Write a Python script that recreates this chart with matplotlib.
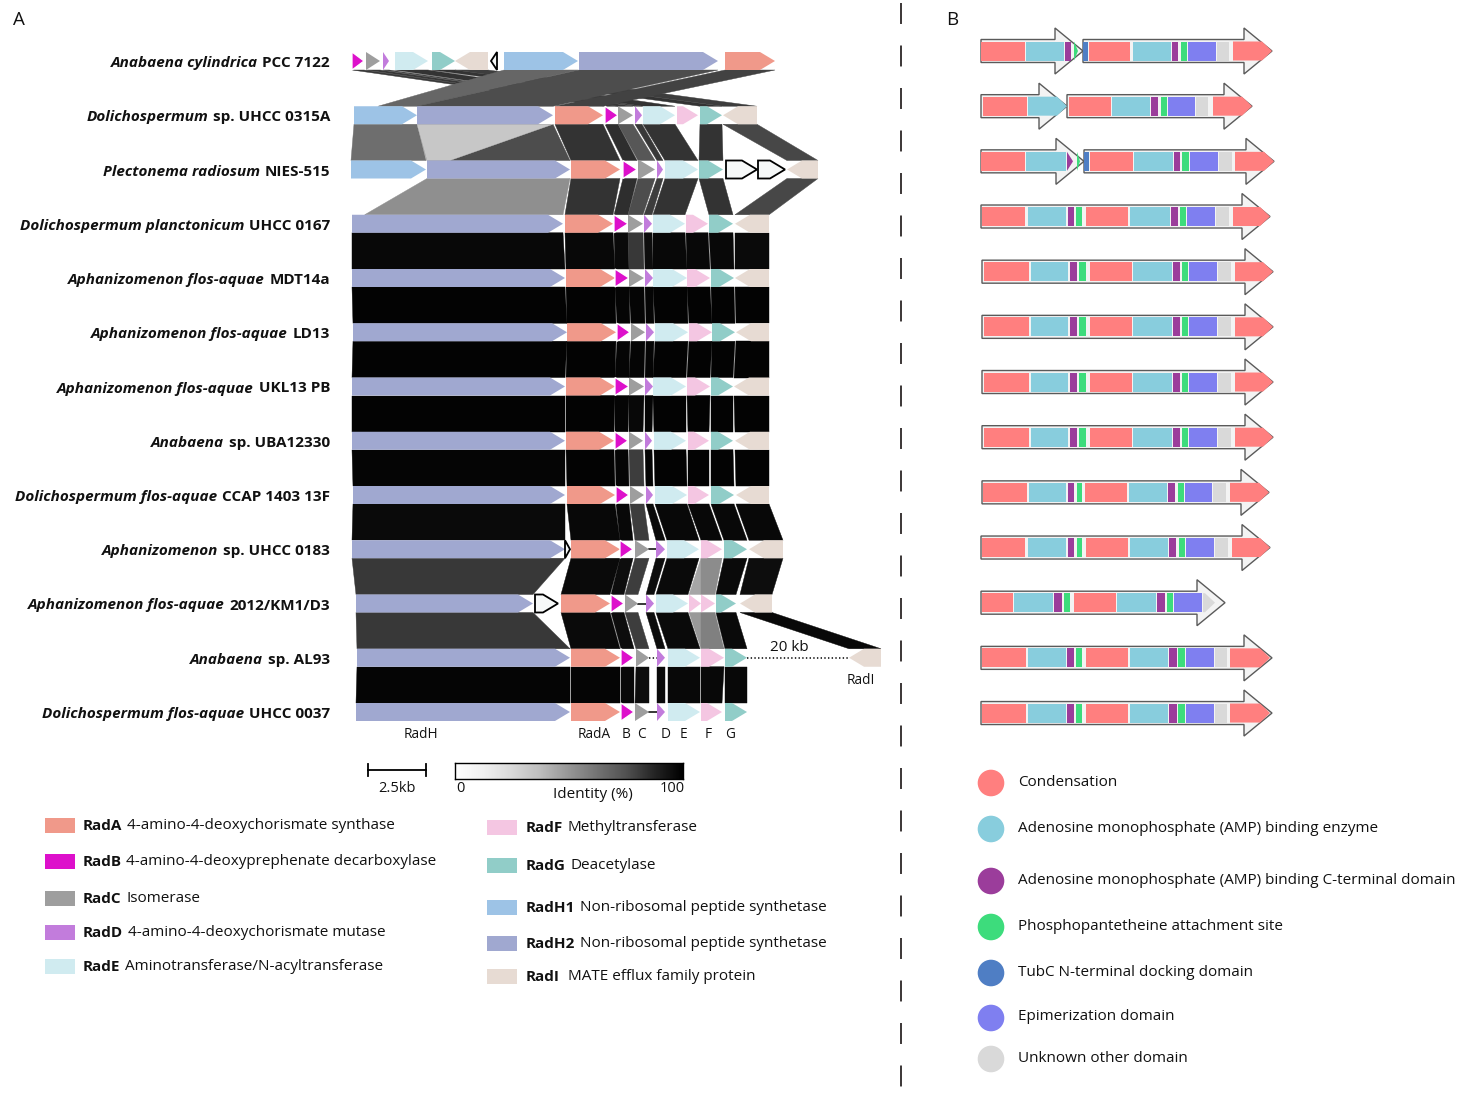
import numpy as np
import matplotlib
matplotlib.use("Agg")
import matplotlib.pyplot as plt
from matplotlib.patches import Polygon, Circle

plt.rcParams['font.family'] = ['Open Sans', 'DejaVu Sans']
plt.rcParams['lines.scale_dashes'] = False

W, H, DPI = 1459, 1103, 100

# ---------------------------------------------------------------
# Panel A : rad biosynthetic gene clusters (track units, 23.2 per kb)
# ---------------------------------------------------------------
UNITS_PER_KB = 23.2

species = ["Anabaena cylindrica", "Dolichospermum", "Plectonema radiosum",
           "Dolichospermum planctonicum", "Aphanizomenon flos-aquae",
           "Aphanizomenon flos-aquae", "Aphanizomenon flos-aquae", "Anabaena",
           "Dolichospermum flos-aquae", "Aphanizomenon",
           "Aphanizomenon flos-aquae", "Anabaena", "Dolichospermum flos-aquae"]
strains = ["PCC 7122", "sp. UHCC 0315A", "NIES-515", "UHCC 0167", "MDT14a",
           "LD13", "UKL13 PB", "sp. UBA12330", "CCAP 1403 13F", "sp. UHCC 0183",
           "2012/KM1/D3", "sp. AL93", "UHCC 0037"]

# (gene, start, end, strand)
clusters = [
    [("RadB", 2, 14, 1), ("RadC", 16, 30, 1), ("RadD", 33, 39, 1), ("RadE", 45, 78, 1),
     ("RadG", 82, 105, 1), ("RadI", 105, 138, -1), ("orf", 141, 147, -1),
     ("RadH1", 154, 228, 1), ("RadH2", 229, 368, 1), ("RadA", 375, 425, 1)],
    [("RadH1", 4, 67, 1), ("RadH2", 67, 203, 1), ("RadA", 205, 253, 1), ("RadB", 255, 268, 1),
     ("RadC", 268, 283, 1), ("RadD", 285, 292, 1), ("RadE", 293, 325, 1), ("RadF", 327, 348, 1),
     ("RadG", 350, 372, 1), ("RadI", 373, 407, -1)],
    [("RadH1", 1, 76, 1), ("RadH2", 77, 220, 1), ("RadA", 221, 270, 1), ("RadB", 273, 287, 1),
     ("RadC", 288, 305, 1), ("RadD", 307, 313, 1), ("RadE", 315, 348, 1), ("RadG", 349, 373, 1),
     ("orf", 376, 407, 1), ("orf", 408, 435, 1), ("RadI", 437, 468, -1)],
    [("RadH2", 2, 213, 1), ("RadA", 215, 263, 1), ("RadB", 264, 278, 1), ("RadC", 278, 293, 1),
     ("RadD", 294, 302, 1), ("RadE", 303, 335, 1), ("RadF", 336, 358, 1), ("RadG", 359, 383, 1),
     ("RadI", 385, 419, -1)],
    [("RadH2", 2, 215, 1), ("RadA", 216, 265, 1), ("RadB", 265, 279, 1), ("RadC", 279, 294, 1),
     ("RadD", 295, 303, 1), ("RadE", 303, 337, 1), ("RadF", 337, 360, 1), ("RadG", 361, 384, 1),
     ("RadI", 385, 419, -1)],
    [("RadH2", 3, 217, 1), ("RadA", 217, 266, 1), ("RadB", 267, 280, 1), ("RadC", 281, 295, 1),
     ("RadD", 296, 304, 1), ("RadE", 305, 338, 1), ("RadF", 339, 362, 1), ("RadG", 362, 385, 1),
     ("RadI", 386, 419, -1)],
    [("RadH2", 2, 215, 1), ("RadA", 216, 265, 1), ("RadB", 265, 279, 1), ("RadC", 279, 294, 1),
     ("RadD", 295, 303, 1), ("RadE", 303, 336, 1), ("RadF", 337, 360, 1), ("RadG", 361, 383, 1),
     ("RadI", 384, 419, -1)],
    [("RadH2", 2, 215, 1), ("RadA", 216, 264, 1), ("RadB", 265, 278, 1), ("RadC", 279, 293, 1),
     ("RadD", 295, 302, 1), ("RadE", 304, 336, 1), ("RadF", 338, 359, 1), ("RadG", 361, 383, 1),
     ("RadI", 385, 419, -1)],
    [("RadH2", 3, 215, 1), ("RadA", 217, 265, 1), ("RadB", 266, 279, 1), ("RadC", 280, 294, 1),
     ("RadD", 296, 303, 1), ("RadE", 305, 337, 1), ("RadF", 338, 359, 1), ("RadG", 361, 384, 1),
     ("RadI", 386, 419, -1)],
    [("RadH2", 2, 215, 1), ("orf", 215, 220, 1), ("RadA", 221, 270, 1), ("RadB", 270, 283, 1),
     ("RadC", 285, 299, 1), ("RadD", 306, 315, 1), ("RadE", 317, 349, 1), ("RadF", 351, 372, 1),
     ("RadG", 374, 397, 1), ("RadI", 399, 433, -1)],
    [("RadH2", 6, 183, 1), ("orf", 185, 208, 1), ("RadA", 211, 260, 1), ("RadB", 261, 274, 1),
     ("RadC", 275, 288, 1), ("RadD", 296, 304, 1), ("RadE", 306, 338, 1), ("RadF", 339, 351, 1),
     ("RadF", 351, 365, 1), ("RadG", 366, 386, 1), ("RadI", 390, 422, -1)],
    [("RadH2", 7, 220, 1), ("RadA", 221, 270, 1), ("RadB", 271, 284, 1), ("RadC", 286, 299, 1),
     ("RadD", 307, 315, 1), ("RadE", 318, 350, 1), ("RadF", 351, 374, 1), ("RadG", 375, 397, 1),
     ("RadI", 499, 531, -1)],
    [("RadH2", 6, 220, 1), ("RadA", 221, 270, 1), ("RadB", 271, 284, 1), ("RadC", 285, 299, 1),
     ("RadD", 307, 315, 1), ("RadE", 318, 350, 1), ("RadF", 351, 372, 1), ("RadG", 375, 397, 1)],
]

# Pairwise tblastx links between neighbouring clusters:
# (gene above, gene below, identity %, [fraction of gene above], [fraction of gene below])
# "RadF:2" refers to the second RadF copy in a cluster.
core = ["RadH2", "RadA", "RadB", "RadC", "RadD", "RadE", "RadF", "RadG", "RadI"]
core_identity = {
    3: [97, 97, 96, 78, 95, 97, 97, 97, 96],
    4: [99, 99, 98, 98, 98, 99, 99, 99, 99],
    5: [99, 99, 98, 98, 98, 99, 99, 99, 99],
    6: [99, 99, 98, 97, 98, 99, 99, 99, 99],
    7: [98, 99, 98, 76, 98, 99, 99, 99, 99],
    8: [96, 97, 97, 76, 96, 97, 97, 97, 97],
}
links = [
    [("RadB", "RadB", 78), ("RadC", "RadC", 78), ("RadD", "RadD", 78), ("RadE", "RadE", 80),
     ("RadG", "RadG", 80), ("RadI", "RadI", 76),
     ("RadH1", "RadH1", 60, (0, 1), (0.38, 1)), ("RadH2", "RadH2", 70), ("RadA", "RadA", 74)],
    [("RadH1", "RadH1", 57), ("RadH2", "RadH2", 70), ("RadH2", "RadH2", 22, (0, 1), (0, 0.16)),
     ("RadA", "RadA", 80), ("RadB", "RadB", 82), ("RadC", "RadC", 66), ("RadD", "RadD", 78),
     ("RadE", "RadE", 80), ("RadG", "RadG", 80), ("RadI", "RadI", 72)],
    [("RadH2", "RadH2", 44, (0, 1), (0.06, 1)), ("RadA", "RadA", 80), ("RadB", "RadB", 82),
     ("RadC", "RadC", 70), ("RadD", "RadD", 76), ("RadE", "RadE", 80), ("RadG", "RadG", 80),
     ("RadI", "RadI", 72)],
]
for k in range(3, 9):
    links.append([(g, g, v) for g, v in zip(core, core_identity[k])])
links += [
    [("RadH2", "RadH2", 78), ("RadA", "RadA", 96), ("RadB", "RadB", 95), ("RadC", "RadC", 76),
     ("RadD", "RadD", 95), ("RadE", "RadE", 96), ("RadF", "RadF", 35), ("RadF", "RadF:2", 45),
     ("RadG", "RadG", 96), ("RadI", "RadI", 95)],
    [("RadH2", "RadH2", 78), ("RadA", "RadA", 96), ("RadB", "RadB", 95), ("RadC", "RadC", 76),
     ("RadD", "RadD", 95), ("RadE", "RadE", 96), ("RadF", "RadF", 40), ("RadF:2", "RadF", 50),
     ("RadG", "RadG", 96), ("RadI", "RadI", 97)],
    [("RadH2", "RadH2", 98), ("RadA", "RadA", 98), ("RadB", "RadB", 97), ("RadC", "RadC", 95),
     ("RadD", "RadD", 96), ("RadE", "RadE", 97), ("RadF", "RadF", 97), ("RadG", "RadG", 97)],
]

# gaps drawn as plain backbone: (cluster, gene before, gene after, linestyle)
backbone = [(9, "RadC", "RadD", "-"), (10, "RadC", "RadD", "-"), (11, "RadC", "RadD", ":"),
            (11, "RadG", "RadI", ":"), (12, "RadC", "RadD", "-")]

gene_colors = {"RadA": "#F0998A", "RadB": "#DD10CB", "RadC": "#9E9E9E", "RadD": "#C27CDC",
               "RadE": "#D0EBF0", "RadF": "#F4C6E2", "RadG": "#91CDC8", "RadH1": "#9DC3E6",
               "RadH2": "#A0A8D0", "RadI": "#E7DBD3", "orf": "#F6F8F8"}

legend_left = [("RadA", "4-amino-4-deoxychorismate synthase"),
               ("RadB", "4-amino-4-deoxyprephenate decarboxylase"),
               ("RadC", "Isomerase"),
               ("RadD", "4-amino-4-deoxychorismate mutase"),
               ("RadE", "Aminotransferase/N-acyltransferase")]
legend_right = [("RadF", "Methyltransferase"),
                ("RadG", "Deacetylase"),
                ("RadH1", "Non-ribosomal peptide synthetase"),
                ("RadH2", "Non-ribosomal peptide synthetase"),
                ("RadI", " MATE efflux family protein")]

# ---------------------------------------------------------------
# Panel B : RadH NRPS domain architecture (track units)
# ---------------------------------------------------------------
# arrows: list of (start, end); domains: (type, start, end)
nrps_arrows = [
    [(1, 103), (103, 292)],
    [(1, 87), (87, 272)],
    [(1, 104), (104, 294)],
    [(1, 290)], [(2, 293)], [(2, 293)], [(2, 293)], [(2, 293)],
    [(2, 289)], [(1, 290)], [(1, 245)], [(1, 292)], [(1, 292)],
]
arch_full = [("C", 4, 49), ("A", 51, 88), ("AC", 90, 97), ("PCP", 99, 106), ("C", 110, 152),
             ("A", 153, 192), ("AC", 193, 200), ("PCP", 202, 208), ("E", 209, 237),
             ("U", 238, 251), ("C", 255, 293)]
nrps_domains = [
    [("C", 1, 45), ("A", 46, 84), ("AC", 85, 91), ("PCP", 94, 98), ("TubC", 103, 108),
     ("C", 109, 150), ("A", 153, 191), ("AC", 192, 198), ("PCP", 201, 207), ("E", 208, 236),
     ("U", 237, 249), ("C", 253, 292)],
    [("C", 3, 47), ("A", 48, 87), ("C", 89, 131), ("A", 132, 170), ("AC", 171, 178),
     ("PCP", 181, 187), ("E", 188, 215), ("U", 216, 228), ("C", 233, 272)],
    [("C", 1, 45), ("A", 46, 86), ("AC", 87, 93), ("PCP", 97, 100), ("TubC", 104, 109),
     ("C", 110, 153), ("A", 154, 193), ("AC", 194, 200), ("PCP", 202, 209), ("E", 210, 238),
     ("U", 239, 252), ("C", 255, 294)],
    [("C", 2, 45), ("A", 48, 86), ("AC", 88, 94), ("PCP", 96, 102), ("C", 106, 148),
     ("A", 150, 190), ("AC", 191, 198), ("PCP", 200, 206), ("E", 207, 235), ("U", 236, 249),
     ("C", 253, 290)],
    arch_full, arch_full, arch_full, arch_full,
    [("C", 3, 47), ("A", 49, 86), ("AC", 88, 94), ("PCP", 97, 102), ("C", 105, 147),
     ("A", 149, 187), ("AC", 188, 195), ("PCP", 198, 204), ("E", 205, 232), ("U", 233, 246),
     ("C", 250, 289)],
    [("C", 2, 45), ("A", 48, 86), ("AC", 88, 94), ("PCP", 97, 102), ("C", 106, 148),
     ("A", 150, 188), ("AC", 189, 196), ("PCP", 199, 205), ("E", 206, 234), ("U", 235, 248),
     ("C", 252, 290)],
    [("C", 2, 33), ("A", 34, 73), ("AC", 74, 82), ("PCP", 84, 90), ("C", 94, 136),
     ("A", 137, 176), ("AC", 177, 185), ("PCP", 187, 193), ("E", 194, 222), ("U", 223, 235)],
    [("C", 2, 46), ("A", 48, 86), ("AC", 87, 94), ("PCP", 96, 102), ("C", 106, 148),
     ("A", 150, 188), ("AC", 189, 197), ("PCP", 198, 205), ("E", 206, 234), ("U", 235, 247),
     ("C", 250, 290)],
    [("C", 2, 46), ("A", 48, 86), ("AC", 87, 94), ("PCP", 96, 102), ("C", 106, 148),
     ("A", 150, 188), ("AC", 189, 197), ("PCP", 198, 205), ("E", 206, 234), ("U", 235, 247),
     ("C", 250, 290)],
]
domain_types = ["C", "A", "AC", "PCP", "TubC", "E", "U"]
domain_colors = ["#FF7F7F", "#88CDDD", "#9B3D9B", "#3DDC7C", "#4F7EC4", "#7F7FF0", "#D9D9D9"]
domain_names = ["Condensation", "Adenosine monophosphate (AMP) binding enzyme",
                "Adenosine monophosphate (AMP) binding C-terminal domain",
                "Phosphopantetheine attachment site", "TubC N-terminal docking domain",
                "Epimerization domain", "Unknown other domain"]

# ---------------------------------------------------------------
# figure + axes (all axes use pixel-sized units)
# ---------------------------------------------------------------
fig = plt.figure(figsize=(W / DPI, H / DPI), dpi=DPI)
ax_o = fig.add_axes([0, 0, 1, 1])
ax_o.set_xlim(0, W); ax_o.set_ylim(H, 0); ax_o.axis("off")

ax_a = fig.add_axes([0, 0, 900 / W, 1])
ax_a.set_xlim(-350, 550); ax_a.set_ylim(H, 0); ax_a.axis("off")
ax_a.patch.set_alpha(0)

ax_b = fig.add_axes([960 / W, 0, 499 / W, 1])
ax_b.set_xlim(-20, 479); ax_b.set_ylim(H, 0); ax_b.axis("off")
ax_b.patch.set_alpha(0)

ROW0_A, STEP_A, HALF_A = 61, 54.25, 9
ROW0_B, STEP_B = 51, 55.17
TXT = "#111111"
FS = 11.0


def row_y(i):
    return ROW0_A + STEP_A * i


def find_gene(row, ref):
    name, _, occ = ref.partition(":")
    occ = int(occ) if occ else 1
    hits = [g for g in clusters[row] if g[0] == name]
    return hits[occ - 1]


def gene_shape(s, e, strand, yc, hh=HALF_A, head=15):
    hl = min(head, e - s)
    if strand > 0:
        return [(s, yc - hh), (e - hl, yc - hh), (e, yc), (e - hl, yc + hh), (s, yc + hh)]
    return [(e, yc - hh), (s + hl, yc - hh), (s, yc), (s + hl, yc + hh), (e, yc + hh)]


# links first, so genes sit on top
for i, pair in enumerate(links):
    y_top = row_y(i) + HALF_A
    y_bot = row_y(i + 1) - HALF_A
    for lk in pair:
        g1 = find_gene(i, lk[0])
        g2 = find_gene(i + 1, lk[1])
        f1 = lk[3] if len(lk) > 3 else (0, 1)
        f2 = lk[4] if len(lk) > 4 else (0, 1)
        a0 = g1[1] + f1[0] * (g1[2] - g1[1]); a1 = g1[1] + f1[1] * (g1[2] - g1[1])
        b0 = g2[1] + f2[0] * (g2[2] - g2[1]); b1 = g2[1] + f2[1] * (g2[2] - g2[1])
        grey = 1 - lk[2] / 100.0
        ax_a.add_patch(Polygon([(a0, y_top), (a1, y_top), (b1, y_bot), (b0, y_bot)],
                               closed=True, facecolor=(grey, grey, grey),
                               edgecolor=(grey, grey, grey), lw=0.3, zorder=1))

for row, g_before, g_after, ls in backbone:
    x0 = find_gene(row, g_before)[2]
    x1 = find_gene(row, g_after)[1]
    ax_a.plot([x0, x1], [row_y(row), row_y(row)], color="black", lw=1.1, ls=ls, zorder=2)
ax_a.text(439, row_y(11) - 3, "20 kb", ha="center", va="bottom", fontsize=FS, color=TXT)

for i, genes in enumerate(clusters):
    yc = row_y(i)
    for name, s, e, strand in genes:
        if name == "orf":
            ec, lw = "black", 1.3
        elif name == "RadB":
            ec, lw = "white", 0.9
        else:
            ec, lw = "none", 0
        ax_a.add_patch(Polygon(gene_shape(s, e, strand, yc), closed=True,
                               facecolor=gene_colors[name], edgecolor=ec, lw=lw,
                               joinstyle="miter", zorder=3))
    t = ax_a.text(-20, yc + 2, strains[i], ha="right", va="center", fontsize=FS,
                  fontweight="bold", color=TXT)
    ax_a.annotate(species[i], xy=(0, 0), xycoords=t, xytext=(-3.4, 0),
                  textcoords="offset points", ha="right", va="bottom", fontsize=FS,
                  fontweight="bold", fontstyle="italic", color=TXT)

# gene names under the last cluster
for label, x in [("RadH", 71), ("RadA", 244), ("B", 276), ("C", 291), ("D", 316),
                 ("E", 333), ("F", 358), ("G", 380)]:
    ax_a.text(x, 735, label, ha="center", va="center", fontsize=9.8, color=TXT)
ax_a.text(511, 681, "RadI", ha="center", va="center", fontsize=9.8, color=TXT)

# scale bar
sb0, sb1 = 18, 18 + 2.5 * UNITS_PER_KB
ax_a.plot([sb0, sb1], [770, 770], color="black", lw=1.3)
ax_a.plot([sb0, sb0], [764, 776], color="black", lw=1.3)
ax_a.plot([sb1, sb1], [764, 776], color="black", lw=1.3)
ax_a.text((sb0 + sb1) / 2, 789, "2.5kb", ha="center", va="center", fontsize=10.5, color=TXT)

# identity colour bar
ax_c = fig.add_axes([455 / W, 1 - 779 / H, 228 / W, 16 / H])
ax_c.imshow(np.linspace(0, 100, 256)[None, :], cmap="Greys", vmin=0, vmax=100,
            aspect="auto", extent=(0, 100, 0, 1))
ax_c.set_xticks([]); ax_c.set_yticks([])
for sp in ax_c.spines.values():
    sp.set_linewidth(1.0)
ax_o.text(460, 789, "0", ha="center", va="center", fontsize=10.5, color=TXT)
ax_o.text(672, 789, "100", ha="center", va="center", fontsize=10.5, color=TXT)
ax_o.text(593, 795, "Identity (%)", ha="center", va="center", fontsize=11, color=TXT)

# gene legend
for col, (x_box, x_txt, ys) in enumerate([(45, 83, [825, 861, 898, 932, 966]),
                                          (487, 526, [827, 865, 907, 943, 976])]):
    entries = legend_left if col == 0 else legend_right
    for (gene, desc), y in zip(entries, ys):
        ax_o.add_patch(plt.Rectangle((x_box, y - 7), 30, 15, facecolor=gene_colors[gene],
                                     edgecolor="none"))
        t = ax_o.text(x_txt, y + 1, gene, ha="left", va="center", fontsize=FS,
                      fontweight="bold", color=TXT)
        ax_o.annotate(desc, xy=(1, 0), xycoords=t, xytext=(3.2, 0), textcoords="offset points",
                      ha="left", va="bottom", fontsize=FS, color=TXT)

# ---------------------------------------------------------------
# Panel B drawing
# ---------------------------------------------------------------
SHAFT, HEAD_W, HEAD_L, DOM = 11.5, 23, 28, 9.5
dcol = dict(zip(domain_types, domain_colors))

for i, (arrows, doms) in enumerate(zip(nrps_arrows, nrps_domains)):
    yc = ROW0_B + STEP_B * i
    for s, e in arrows:
        hs = e - HEAD_L
        ax_b.add_patch(Polygon([(s, yc - SHAFT), (hs, yc - SHAFT), (hs, yc - HEAD_W), (e, yc),
                                (hs, yc + HEAD_W), (hs, yc + SHAFT), (s, yc + SHAFT)],
                               closed=True, facecolor="#F3F3F3", edgecolor="#5A5A5A",
                               lw=1.0, joinstyle="miter", zorder=1))
    tips = [e for _, e in arrows]
    for dtype, s, e in doms:
        tip = min([t for t in tips if t >= e - 0.5], default=None)
        if tip is not None and e > tip - 12:
            ps = max(s, e - 10)
            pts = [(s, yc - DOM), (ps, yc - DOM), (e, yc), (ps, yc + DOM), (s, yc + DOM)]
        else:
            pts = [(s, yc - DOM), (e, yc - DOM), (e, yc + DOM), (s, yc + DOM)]
        ax_b.add_patch(Polygon(pts, closed=True, facecolor=dcol[dtype], edgecolor="none",
                               zorder=2))

for name, color, y in zip(domain_names, domain_colors, [783, 829, 881, 927, 973, 1018, 1059]):
    ax_o.add_patch(Circle((991, y), 13.3, facecolor=color, edgecolor="none"))
    ax_o.text(1018, y - 1, name, ha="left", va="center", fontsize=FS, color=TXT)

# panel letters and divider
ax_o.text(19, 20, "A", ha="center", va="center", fontsize=13.5, color=TXT)
ax_o.text(952, 20, "B", ha="center", va="center", fontsize=13.5, color=TXT)
ax_o.plot([901, 901], [3, H], color="#1A1414", lw=1.2, ls=(0, (15.1, 15.5)))

fig.savefig("out.png", dpi=DPI)
